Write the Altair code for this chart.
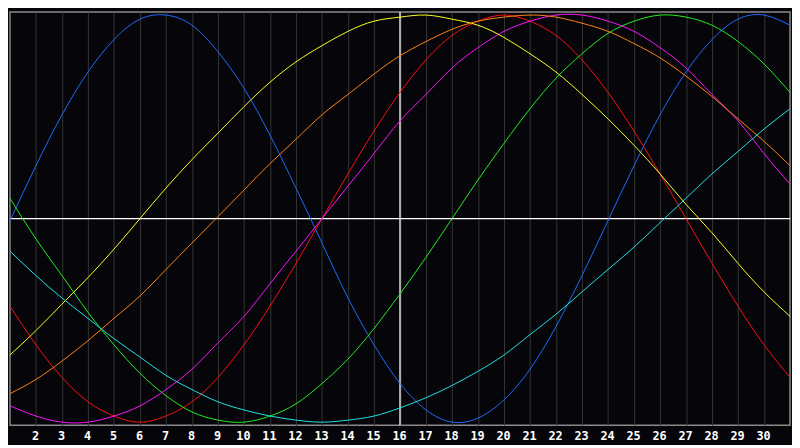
import altair as alt
import pandas as pd

days = list(range(1, 32))

physical = [-0.01, 0.26, 0.51, 0.72, 0.88, 0.98, 1.00, 0.95, 0.82, 0.64, 0.41, 0.15, -0.12, -0.39, -0.62, -0.81,
            -0.94, -1.00, -0.98, -0.89, -0.74, -0.53, -0.28, -0.01, 0.26, 0.51, 0.72, 0.88, 0.98, 1.00, 0.95]
emotional = [-0.43, -0.62, -0.78, -0.90, -0.97, -1.00, -0.97, -0.90, -0.78, -0.62, -0.43, -0.22, 0.00, 0.22, 0.43, 0.62,
             0.78, 0.90, 0.97, 1.00, 0.97, 0.90, 0.78, 0.62, 0.43, 0.22, 0.00, -0.22, -0.43, -0.62, -0.78]
intellectual = [0.10, -0.10, -0.28, -0.46, -0.62, -0.76, -0.87, -0.95, -0.99, -1.00, -0.97, -0.91, -0.81, -0.69, -0.54, -0.37,
                -0.19, 0.00, 0.19, 0.37, 0.54, 0.69, 0.81, 0.91, 0.97, 1.00, 0.99, 0.95, 0.87, 0.76, 0.62]
intuitive = [-0.92, -0.97, -1.00, -1.00, -0.97, -0.92, -0.84, -0.74, -0.61, -0.48, -0.32, -0.16, 0.00, 0.16, 0.32, 0.48,
             0.61, 0.74, 0.84, 0.92, 0.97, 1.00, 1.00, 0.97, 0.92, 0.84, 0.74, 0.61, 0.48, 0.32, 0.17]
aesthetic = [-0.67, -0.55, -0.42, -0.29, -0.15, 0.00, 0.15, 0.29, 0.42, 0.55, 0.67, 0.77, 0.85, 0.92, 0.97, 0.99,
             1.00, 0.98, 0.95, 0.89, 0.81, 0.72, 0.61, 0.49, 0.36, 0.22, 0.07, -0.07, -0.22, -0.36, -0.48]
awareness = [-0.86, -0.79, -0.70, -0.60, -0.49, -0.38, -0.25, -0.12, 0.01, 0.14, 0.27, 0.39, 0.51, 0.61, 0.71, 0.80,
             0.87, 0.93, 0.97, 0.99, 1.00, 0.99, 0.96, 0.92, 0.86, 0.79, 0.70, 0.60, 0.49, 0.38, 0.26]
spiritual = [-0.16, -0.28, -0.39, -0.49, -0.59, -0.68, -0.77, -0.84, -0.90, -0.94, -0.97, -0.99, -1.00, -0.99, -0.97, -0.93,
             -0.88, -0.82, -0.75, -0.67, -0.57, -0.47, -0.36, -0.25, -0.14, -0.02, 0.10, 0.22, 0.33, 0.44, 0.54]

series_names = ["Physical", "Emotional", "Intellectual", "Intuitive", "Aesthetic", "Awareness", "Spiritual"]
series_values = [physical, emotional, intellectual, intuitive, aesthetic, awareness, spiritual]
series_colors = ["#1e6cff", "#ff1010", "#22f022", "#ff14ff", "#ffff22", "#ff8414", "#22e4e4"]

tick_labels = list(range(2, 31))
today = 16

rows = []
for name, vals in zip(series_names, series_values):
    for d, v in zip(days, vals):
        rows.append({"day": d, "value": v, "series": name})
df = pd.DataFrame(rows)

xscale = alt.Scale(domain=[1, 31], nice=False, zero=False)
yscale = alt.Scale(domain=[-1.015, 1.015], nice=False, zero=False)
xaxis = alt.Axis(values=tick_labels, title=None, grid=True, gridColor="#363636", gridWidth=1,
                 ticks=False, domain=False, labelColor="#ffffff", labelFont="DejaVu Sans Mono",
                 labelFontWeight="bold", labelFontSize=12, labelPadding=6, labelOffset=-1)

lines = alt.Chart(df).mark_line(strokeWidth=1, interpolate="natural").encode(
    x=alt.X("day:Q", scale=xscale, axis=xaxis),
    y=alt.Y("value:Q", scale=yscale, axis=None),
    color=alt.Color("series:N", scale=alt.Scale(domain=series_names, range=series_colors), legend=None),
)

hrule = alt.Chart(df).mark_rule(color="#ffffff", strokeWidth=1.3).encode(
    y=alt.Y("zero:Q", scale=yscale, axis=None)
).transform_filter(alt.datum.day == 1).transform_filter(alt.datum.series == "Physical").transform_calculate(zero="0")

vrule = alt.Chart(df).mark_rule(color="#ffffff", strokeWidth=1.3).encode(
    x=alt.X("day:Q", scale=xscale, axis=xaxis)
).transform_filter(alt.datum.day == today).transform_filter(alt.datum.series == "Physical")

chart = alt.layer(hrule, vrule, lines).properties(
    width=791, height=419,
    background="#060509",
    padding=0,
).configure_view(stroke="#8a8a8a", strokeWidth=1.5)

chart.save("out.html", embed_options={"renderer": "svg", "actions": False})
